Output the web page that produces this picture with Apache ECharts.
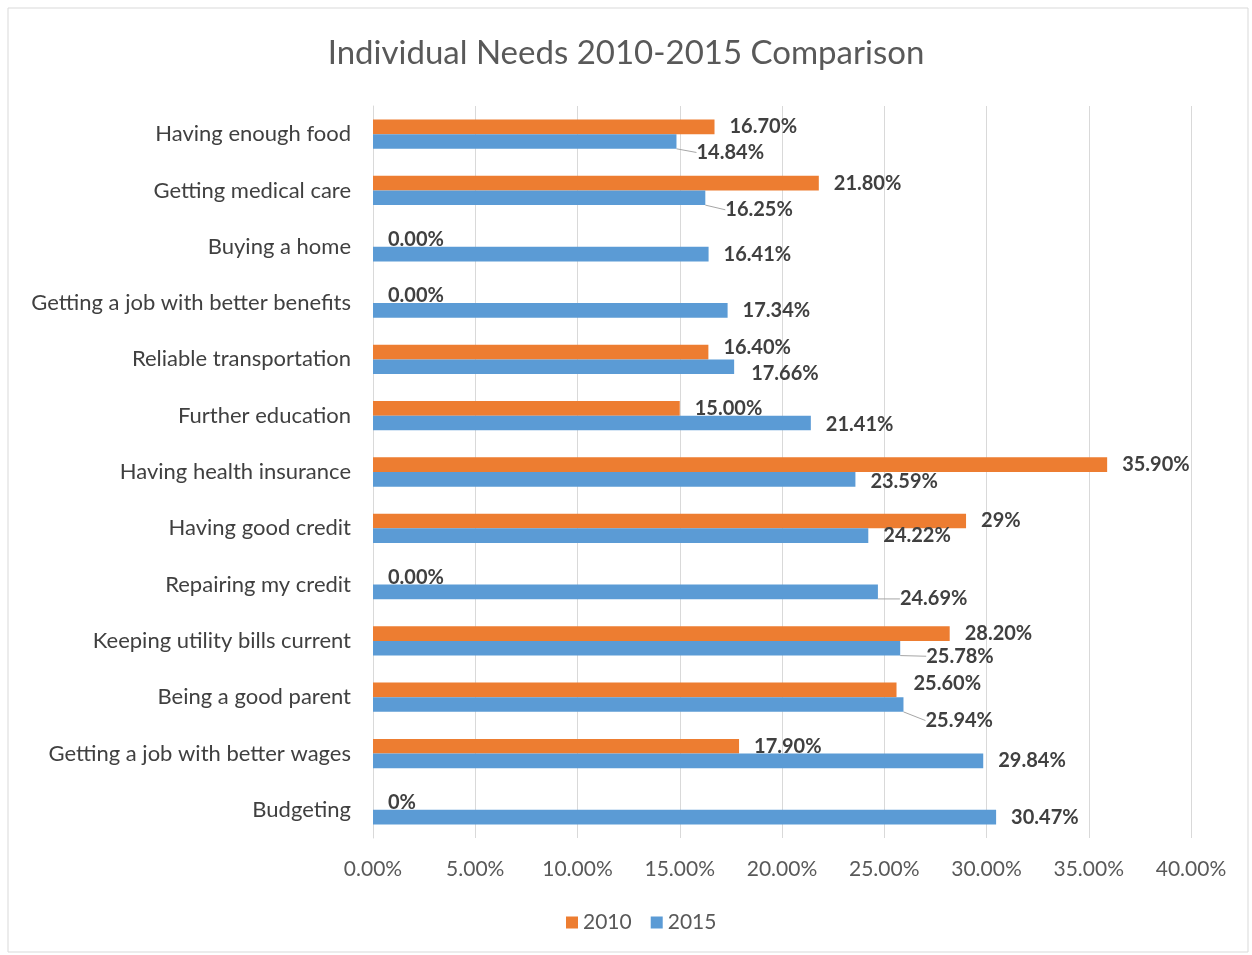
<!DOCTYPE html>
<html>
<head>
<meta charset="utf-8">
<script src="https://cdn.jsdelivr.net/npm/echarts@6/dist/echarts.min.js"></script>
<style>
  html, body { margin: 0; padding: 0; background: #fff; }
  #chart { width: 1252px; height: 955px; }
</style>
</head>
<body>
<div id="chart"></div>
<script>
// categories, top to bottom as in the picture
const categories = [
  'Having enough food',
  'Getting medical care',
  'Buying a home',
  'Getting a job with better benefits',
  'Reliable transportation',
  'Further education',
  'Having health insurance',
  'Having good credit',
  'Repairing my credit',
  'Keeping utility bills current',
  'Being a good parent',
  'Getting a job with better wages',
  'Budgeting'
];
const values2010 = [16.7, 21.8, 0, 0, 16.4, 15.0, 35.9, 29.0, 0, 28.2, 25.6, 17.9, 0];
const labels2010 = ['16.70%', '21.80%', '0.00%', '0.00%', '16.40%', '15.00%', '35.90%', '29%', '0.00%', '28.20%', '25.60%', '17.90%', '0%'];
const values2015 = [14.84, 16.25, 16.41, 17.34, 17.66, 21.41, 23.59, 24.22, 24.69, 25.78, 25.94, 29.84, 30.47];
const xTicks = [0, 5, 10, 15, 20, 25, 30, 35, 40];

// label nudges (Excel moved some labels away from their bars)
const nudge2010 = { 4: [0, -5], 10: [2, -6] };
const nudge2015 = { 0: [5, 11], 1: [5, 12], 4: [2, 7], 5: [0, 2], 6: [0, 2], 8: [7, 7], 9: [11, 8], 10: [7, 16] };
// labels that got a leader line
const leader2015 = [0, 1, 8, 9, 10];

const chart = echarts.init(document.getElementById('chart'));

const labelFont = {
  fontFamily: 'Lato',
  fontSize: 20,
  fontWeight: 'bold',
  color: '#404040'
};

const data2015 = values2015.map((v, i) =>
  leader2015.indexOf(i) >= 0 ? { value: v, labelLine: { show: true } } : v
);

const option = {
  animation: false,
  backgroundColor: '#fff',
  graphic: [{
    type: 'rect',
    shape: { x: 8, y: 8, width: 1240, height: 944 },
    style: { fill: 'none', stroke: '#d9d9d9', lineWidth: 1 },
    silent: true
  }],
  title: {
    text: 'Individual Needs 2010-2015 Comparison',
    left: 'center',
    top: 32,
    textStyle: { fontFamily: 'Lato', fontSize: 33, fontWeight: 'normal', color: '#595959' }
  },
  legend: {
    bottom: 17,
    left: 561,
    itemWidth: 12,
    itemHeight: 12,
    itemGap: 19,
    icon: 'rect',
    textStyle: { fontFamily: 'Lato', fontSize: 21, color: '#595959' },
    data: ['2010', '2015']
  },
  grid: { left: 373, right: 61, top: 106, bottom: 117, containLabel: false },
  xAxis: {
    type: 'value',
    min: xTicks[0],
    max: xTicks[xTicks.length - 1],
    interval: 5,
    axisLine: { show: false },
    axisTick: { show: false },
    splitLine: { show: true, lineStyle: { color: '#d9d9d9', width: 1 } },
    axisLabel: {
      margin: 21,
      fontFamily: 'Lato',
      fontSize: 21,
      color: '#595959',
      formatter: v => v.toFixed(2) + '%'
    }
  },
  yAxis: {
    type: 'category',
    inverse: true,
    data: categories,
    axisLine: { show: true, lineStyle: { color: '#d9d9d9' } },
    axisTick: { show: false },
    axisLabel: { margin: 22, fontFamily: 'Lato', fontSize: 22, color: '#404040' }
  },
  series: [
    {
      name: '2010',
      type: 'bar',
      data: values2010,
      barGap: '0%',
      barCategoryGap: '48%',
      itemStyle: { color: '#ed7d31' },
      label: Object.assign({
        show: true,
        position: 'right',
        distance: 15,
        formatter: p => labels2010[p.dataIndex]
      }, labelFont),
      labelLayout: p => {
        const n = nudge2010[p.dataIndex];
        return n ? { dx: n[0], dy: n[1] } : {};
      }
    },
    {
      name: '2015',
      type: 'bar',
      data: data2015,
      itemStyle: { color: '#5b9bd5' },
      label: Object.assign({
        show: true,
        position: 'right',
        distance: 15,
        formatter: p => p.value.toFixed(2) + '%'
      }, labelFont),
      labelLine: { show: false, lineStyle: { color: '#a6a6a6', width: 1 } },
      labelLayout: p => {
        const n = nudge2015[p.dataIndex];
        return n ? { dx: n[0], dy: n[1] } : {};
      }
    }
  ]
};

chart.setOption(option);
</script>
</body>
</html>
